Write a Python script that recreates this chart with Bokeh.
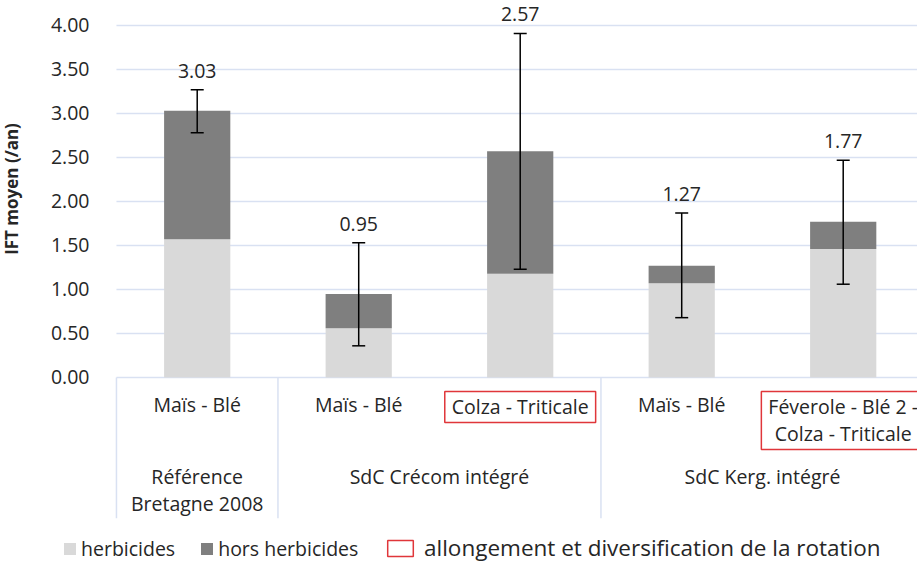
from bokeh.plotting import figure
from bokeh.models import (Range1d, FixedTicker, ColumnDataSource, Whisker, TeeHead,
                          Legend, LegendItem, NumeralTickFormatter)
from bokeh.embed import file_html
from bokeh.resources import INLINE
from bokeh.core.properties import value

# ---------------- data ----------------
rotations = ["Maïs - Blé", "Maïs - Blé", "Colza - Triticale", "Maïs - Blé",
             "Féverole - Blé 2 -\nColza - Triticale"]
groups = ["Référence\nBretagne 2008", "SdC Crécom intégré", "SdC Kerg. intégré"]
group_sizes = [1, 2, 2]
highlighted = [False, False, True, False, True]
herbicides = [1.57, 0.56, 1.18, 1.07, 1.46]
hors_herbicides = [1.46, 0.39, 1.39, 0.20, 0.31]
totals = [3.03, 0.95, 2.57, 1.27, 1.77]
err_low = [2.78, 0.36, 1.23, 0.68, 1.06]
err_high = [3.27, 1.53, 3.91, 1.87, 2.47]
y_ticks = [0.0, 0.5, 1.0, 1.5, 2.0, 2.5, 3.0, 3.5, 4.0]
legend_labels = ["herbicides", "hors herbicides", "allongement et diversification de la rotation"]

# ---------------- style ----------------
FONT = "Open Sans"
TXT = "#262626"
GRID = "#d9e1f2"
LIGHT = "#d9d9d9"
DARK = "#7f7f7f"
RED = "#e0363a"
CAT_SIZE = "19.5px"
X_END = 4.96

x = [i + 0.5 for i in range(len(rotations))]
src = ColumnDataSource(dict(x=x, herbicides=herbicides, hors=hors_herbicides,
                            total=totals, lo=err_low, hi=err_high,
                            lab=["%.2f" % t for t in totals]))

p = figure(width=917, height=564, output_backend="svg", toolbar_location=None,
           x_range=Range1d(-0.718, X_END), y_range=Range1d(-2.125, 4.284),
           min_border_left=0, min_border_right=0, min_border_top=0, min_border_bottom=0)
p.outline_line_color = None
p.xaxis.visible = False
p.grid.visible = False

# horizontal grid lines (only over the category area)
p.segment(x0=[0] * len(y_ticks), y0=y_ticks, x1=[X_END] * len(y_ticks), y1=y_ticks,
          line_color=GRID, line_width=1.5)

ax = p.yaxis[0]
ax.fixed_location = 0
ax.bounds = (0, 4.44)
ax.ticker = FixedTicker(ticks=y_ticks)
ax.formatter = NumeralTickFormatter(format="0.00")
ax.axis_line_color = None
ax.major_tick_line_color = None
ax.minor_tick_line_color = None
ax.major_label_text_font = FONT
ax.major_label_text_font_size = "19.5px"
ax.major_label_text_color = TXT
ax.major_label_standoff = 21
ax.axis_label = "IFT moyen (/an)"
ax.axis_label_text_font = FONT
ax.axis_label_text_font_style = "bold"
ax.axis_label_text_font_size = "17px"
ax.axis_label_text_color = TXT
ax.axis_label_standoff = 25

r = p.vbar_stack(["herbicides", "hors"], x="x", width=0.41, source=src,
                 color=[LIGHT, DARK], line_color=None)

p.add_layout(Whisker(source=src, base="x", lower="lo", upper="hi", level="overlay",
                     line_color="black", line_width=1.5,
                     lower_head=TeeHead(size=13, line_color="black", line_width=1.5),
                     upper_head=TeeHead(size=13, line_color="black", line_width=1.5)))

# value labels above error bars
p.text(x="x", y="hi", text="lab", source=src, y_offset=-19,
       text_font=value(FONT), text_font_size="19.5px", text_color=TXT,
       text_align="center", text_baseline="middle")

# category separators
bounds = [0]
for s in group_sizes:
    bounds.append(bounds[-1] + s)
p.segment(x0=bounds, y0=[0] * len(bounds), x1=bounds, y1=[-1.6] * len(bounds),
          line_color=GRID, line_width=1.5)

# rotation labels
LAB_Y = -0.159
plain_x = [xx for xx, h in zip(x, highlighted) if not h]
plain_t = [t for t, h in zip(rotations, highlighted) if not h]
hl_x = [xx for xx, h in zip(x, highlighted) if h]
hl_t = [t for t, h in zip(rotations, highlighted) if h]
p.text(x=plain_x, y=[LAB_Y] * len(plain_x), text=plain_t,
       text_font=value(FONT), text_font_size=CAT_SIZE, text_color=TXT,
       text_align="center", text_baseline="top", text_line_height=1.0)
p.text(x=hl_x, y=[LAB_Y] * len(hl_x), text=hl_t,
       text_font=value(FONT), text_font_size=CAT_SIZE, text_color=TXT,
       text_align="center", text_baseline="top", text_line_height=1.0,
       border_line_color=RED, border_line_width=1.5, padding=(7, 2))

# group labels
gx = [(bounds[i] + bounds[i + 1]) / 2 for i in range(len(groups))]
p.text(x=gx, y=[-0.977] * len(gx), text=groups,
       text_font=value(FONT), text_font_size=CAT_SIZE, text_color=TXT,
       text_align="center", text_baseline="top", text_line_height=1.0)

# ---------------- legend ----------------
box = p.rect(x=[-100], y=[-100], width=1, height=1, fill_color=None,
             line_color=RED, line_width=1.5)

leg1 = Legend(items=[LegendItem(label=legend_labels[0], renderers=[r[0]]),
                     LegendItem(label=legend_labels[1], renderers=[r[1]])],
              orientation="horizontal", location=(62, 2),
              glyph_width=15, glyph_height=15, label_standoff=4, spacing=24,
              label_text_font=FONT, label_text_font_size="19.5px", label_text_color=TXT,
              border_line_color=None, background_fill_alpha=0, padding=0, margin=0)
leg2 = Legend(items=[LegendItem(label=legend_labels[2], renderers=[box])],
              orientation="horizontal", location=(384, 1),
              glyph_width=32, glyph_height=20, label_standoff=8,
              label_text_font=FONT, label_text_font_size="22.5px", label_text_color=TXT,
              border_line_color=None, background_fill_alpha=0, padding=0, margin=0)
p.add_layout(leg1)
p.add_layout(leg2)

open("out.html", "w").write(file_html(p, INLINE))
